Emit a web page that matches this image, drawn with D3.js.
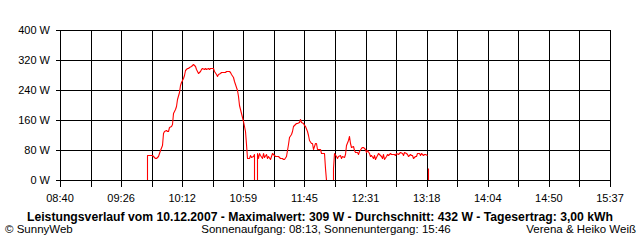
<!DOCTYPE html>
<html>
<head>
<meta charset="utf-8">
<script src="https://cdn.jsdelivr.net/npm/d3@7"></script>
<style>
  body { margin: 0; background: #fff; }
  svg { display: block; font-family: "Liberation Sans", Arial, sans-serif; }
</style>
</head>
<body>
<script>
// axis labels
var yTicks = [0, 80, 160, 240, 320, 400];
var xTickLabels = ["08:40", "09:26", "10:12", "10:59", "11:45", "12:31", "13:18", "14:04", "14:50", "15:37"];
var dayStart = "08:40", dayEnd = "15:37";

// measured power (W), one reading per time; null = no reading
var times = [
  "09:46","09:46","09:47","09:48","09:49","09:50","09:51","09:52","09:53","09:54","09:55","09:56","09:57","09:58","09:59",
  "10:00","10:01","10:02","10:03","10:04","10:05","10:06","10:07","10:08","10:09","10:10","10:11","10:12","10:13","10:14",
  "10:15","10:16","10:17","10:18","10:19","10:20","10:21","10:22","10:23","10:24","10:25","10:26","10:27","10:28","10:29",
  "10:30","10:31","10:32","10:33","10:34","10:35","10:36","10:37","10:38","10:39","10:40","10:41","10:42","10:43","10:44",
  "10:45","10:46","10:47","10:48","10:49","10:50","10:51","10:52","10:53","10:54","10:55","10:56","10:57","10:58","10:59",
  "11:00","11:01","11:02","11:03","11:04","11:05","11:06","11:07","11:07","11:08","11:09","11:09","11:10","11:11","11:12",
  "11:13","11:14","11:15","11:16","11:17","11:18","11:19","11:20","11:21","11:22","11:23","11:24","11:25","11:26","11:27",
  "11:28","11:29","11:30","11:31","11:32","11:33","11:34","11:35","11:36","11:37","11:38","11:39","11:40","11:41","11:42",
  "11:43","11:44","11:45","11:46","11:47","11:48","11:49","11:50","11:51","11:52","11:53","11:54","11:55","11:56","11:57",
  "11:58","11:59","12:00","12:01","12:02","12:03","12:04","12:05","12:06","12:07","12:07","12:08","12:09","12:10","12:11",
  "12:12","12:13","12:14","12:15","12:16","12:17","12:18","12:19","12:20","12:21","12:22","12:23","12:24","12:25","12:26",
  "12:27","12:28","12:29","12:30","12:31","12:32","12:33","12:34","12:35","12:36","12:37","12:38","12:39","12:40","12:41",
  "12:42","12:43","12:44","12:45","12:46","12:47","12:48","12:49","12:50","12:51","12:52","12:53","12:54","12:55","12:56",
  "12:57","12:58","12:59","13:00","13:01","13:02","13:03","13:04","13:05","13:06","13:07","13:08","13:09","13:10","13:11",
  "13:12","13:13","13:14","13:15","13:16","13:17","13:18","13:18","13:19","13:19"
];
var watts = [
  0,68,68,68,68,66,62,59,60,65,72,80,93,125,132,
  133,130,130,142,145,150,178,190,198,215,235,253,262,272,280,
  293,298,300,302,304,306,309,303,297,290,285,290,295,298,296,
  300,297,298,297,298,300,298,290,284,278,282,286,287,287,287,
  288,290,291,290,288,282,274,264,255,240,225,200,180,168,157,
  130,95,58,60,67,62,64,69,0,0,0,71,58,72,67,
  60,71,62,69,58,64,55,64,71,67,64,64,64,62,58,
  60,55,57,65,80,95,116,122,132,144,149,151,153,155,163,
  155,152,147,143,130,120,108,100,98,84,100,98,84,82,82,
  73,73,73,31,0,0,0,0,0,0,31,73,64,58,64,
  67,60,64,61,70,93,108,118,100,89,90,80,75,75,69,
  77,85,88,89,84,76,80,73,64,66,60,66,55,66,73,
  69,64,60,69,55,64,69,67,72,69,69,69,67,71,69,
  73,75,71,67,75,71,69,64,69,67,67,60,64,64,71,
  73,67,73,67,69,69,67,null,31,0
];

var title = "Leistungsverlauf vom 10.12.2007 - Maximalwert: 309 W - Durchschnitt: 432 W - Tagesertrag: 3,00 kWh";
var footLeft = "\u00a9 SunnyWeb";
var footMid = "Sonnenaufgang: 08:13, Sonnenuntergang: 15:46";
var footRight = "Verena & Heiko Wei\u00df";

var parseTime = d3.timeParse("%H:%M");
var data = times.map(function(t, i) { return {t: parseTime(t), w: watts[i]}; });

var width = 640, height = 240;
var plotLeft = 60, plotRight = 610, plotTop = 30, plotBottom = 180;

var svg = d3.select("body").append("svg")
    .attr("width", width)
    .attr("height", height);

var x = d3.scaleTime()
    .domain([parseTime(dayStart), parseTime(dayEnd)])
    .range([plotLeft, plotRight]);
var y = d3.scaleLinear()
    .domain([0, 400])
    .range([plotBottom, plotTop]);

// grid: 18 columns, labels on every second line
var t0 = x.domain()[0].getTime(), t1 = x.domain()[1].getTime();
var gridDates = d3.range(19).map(function(i) { return new Date(t0 + i * (t1 - t0) / 18); });
var labelDates = gridDates.filter(function(d, i) { return i % 2 == 0; });

var grid = svg.append("g")
    .attr("stroke", "#000")
    .attr("stroke-width", 1)
    .attr("shape-rendering", "crispEdges");

grid.selectAll(".vline")
  .data(gridDates)
  .enter().append("line")
    .attr("class", "vline")
    .attr("x1", function(d) { return Math.round(x(d)) + 0.5; })
    .attr("x2", function(d) { return Math.round(x(d)) + 0.5; })
    .attr("y1", plotTop)
    .attr("y2", plotBottom + 7);

grid.selectAll(".hline")
  .data(yTicks)
  .enter().append("line")
    .attr("class", "hline")
    .attr("x1", plotLeft - 4)
    .attr("x2", plotRight + 1)
    .attr("y1", function(d) { return Math.round(y(d)) + 0.5; })
    .attr("y2", function(d) { return Math.round(y(d)) + 0.5; });

// power curve
var line = d3.line()
    .defined(function(d) { return d.w !== null; })
    .x(function(d) { return Math.round(x(d.t)) + 0.5; })
    .y(function(d) { return Math.round(y(d.w)) + 0.5; });

svg.append("path")
    .datum(data)
    .attr("fill", "none")
    .attr("stroke", "#ff0000")
    .attr("stroke-width", 1.1)
    .attr("stroke-linejoin", "round")
    .attr("d", line);

// zero line on top of the curve
svg.append("line")
    .attr("x1", plotLeft - 4).attr("x2", plotRight + 1)
    .attr("y1", Math.round(y(0)) + 0.5).attr("y2", Math.round(y(0)) + 0.5)
    .attr("stroke", "#000")
    .attr("shape-rendering", "crispEdges");

// tick labels
svg.append("g")
    .attr("font-size", 11)
    .attr("text-anchor", "middle")
  .selectAll("text")
  .data(labelDates)
  .enter().append("text")
    .attr("x", function(d) { return x(d); })
    .attr("y", 202)
    .text(function(d, i) { return xTickLabels[i]; });

svg.append("g")
    .attr("font-size", 11)
    .attr("text-anchor", "end")
  .selectAll("text")
  .data(yTicks)
  .enter().append("text")
    .attr("x", 50)
    .attr("y", function(d) { return y(d) + 4; })
    .text(function(d) { return d + " W"; });

// caption
svg.append("text")
    .attr("x", 320)
    .attr("y", 221)
    .attr("text-anchor", "middle")
    .attr("font-size", 12.5)
    .attr("font-weight", "bold")
    .attr("textLength", 586)
    .attr("lengthAdjust", "spacingAndGlyphs")
    .text(title);

svg.append("text")
    .attr("x", 5).attr("y", 233)
    .attr("font-size", 11.5)
    .text(footLeft);
svg.append("text")
    .attr("x", 326).attr("y", 233)
    .attr("font-size", 11.5)
    .attr("text-anchor", "middle")
    .text(footMid);
svg.append("text")
    .attr("x", 636).attr("y", 233)
    .attr("font-size", 11.5)
    .attr("text-anchor", "end")
    .text(footRight);
</script>
</body>
</html>
